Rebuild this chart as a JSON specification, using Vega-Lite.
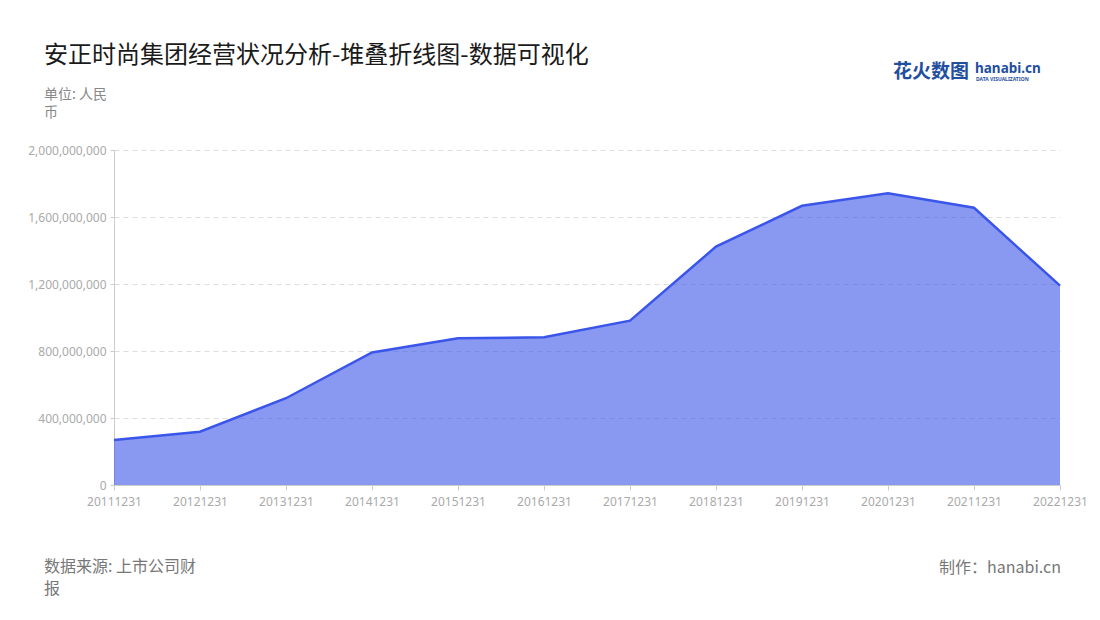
{
  "$schema": "https://vega.github.io/schema/vega-lite/v6.json",
  "autosize": {"type": "none"},
  "width": 946,
  "height": 335,
  "padding": {"left": 114, "top": 150, "right": 40, "bottom": 135},
  "background": "#ffffff",
  "config": {"view": {"stroke": null}, "font": "Noto Sans CJK SC"},
  "title": {
    "text": "安正时尚集团经营状况分析-堆叠折线图-数据可视化",
    "anchor": "start",
    "frame": "group",
    "dx": -70,
    "fontSize": 24,
    "fontWeight": "normal",
    "color": "#1a1a1a",
    "font": "Noto Sans CJK SC",
    "offset": -6
  },
  "data": {
    "values": [
      {"date": "20111231", "value": 269000000},
      {"date": "20121231", "value": 318000000},
      {"date": "20131231", "value": 518000000},
      {"date": "20141231", "value": 791000000},
      {"date": "20151231", "value": 876000000},
      {"date": "20161231", "value": 882000000},
      {"date": "20171231", "value": 981000000},
      {"date": "20181231", "value": 1423000000},
      {"date": "20191231", "value": 1667000000},
      {"date": "20201231", "value": 1741000000},
      {"date": "20211231", "value": 1655000000},
      {"date": "20221231", "value": 1190000000}
    ]
  },
  "layer": [
    {
      "mark": {
        "type": "area",
        "color": "#3a55e9",
        "opacity": 0.6,
        "line": {"color": "#3a55e9", "strokeWidth": 2.5, "opacity": 1}
      },
      "encoding": {
        "x": {
          "field": "date",
          "type": "ordinal",
          "sort": null,
          "scale": {"type": "point", "padding": 0},
          "axis": {
            "title": null,
            "labelAngle": 0,
            "labelFont": "Noto Sans",
            "labelFontSize": 12,
            "labelColor": "#aaaaaa",
            "labelPadding": 6,
            "tickColor": "#cccccc",
            "tickSize": 5,
            "domainColor": "#cccccc",
            "grid": false
          }
        },
        "y": {
          "field": "value",
          "type": "quantitative",
          "scale": {"domain": [0, 2000000000]},
          "axis": {
            "title": null,
            "values": [0, 400000000, 800000000, 1200000000, 1600000000, 2000000000],
            "format": ",.0f",
            "labelFont": "Noto Sans",
            "labelFontSize": 12,
            "labelColor": "#aaaaaa",
            "labelPadding": 4,
            "tickColor": "#cccccc",
            "tickSize": 4,
            "domainColor": "#cccccc",
            "grid": true,
            "gridColor": "#dddddd",
            "gridDash": [5, 4],
            "gridWidth": 1
          }
        }
      }
    },
    {
      "data": {"values": [{"t": ["单位: 人民", "币"]}]},
      "mark": {"type": "text", "x": -70, "y": -62, "align": "left", "baseline": "top", "fontSize": 14, "lineHeight": 18, "color": "#888888", "font": "Noto Sans CJK SC"},
      "encoding": {"text": {"field": "t"}}
    },
    {
      "data": {"values": [{"t": ["数据来源: 上市公司财", "报"]}]},
      "mark": {"type": "text", "x": -70, "y": 409, "align": "left", "baseline": "top", "fontSize": 16, "lineHeight": 22, "color": "#777777", "font": "Noto Sans CJK SC"},
      "encoding": {"text": {"field": "t"}}
    },
    {
      "data": {"values": [{"t": "制作：hanabi.cn"}]},
      "mark": {"type": "text", "x": 947, "y": 410, "align": "right", "baseline": "top", "fontSize": 16, "color": "#777777", "font": "Noto Sans CJK SC"},
      "encoding": {"text": {"field": "t"}}
    },
    {
      "data": {"values": [{"t": "花火数图"}]},
      "mark": {"type": "text", "x": 779, "y": -78, "align": "left", "baseline": "middle", "fontSize": 19, "fontWeight": "bold", "color": "#1f4f9e", "font": "Noto Sans CJK SC"},
      "encoding": {"text": {"field": "t"}}
    },
    {
      "data": {"values": [{"t": "hanabi.cn"}]},
      "mark": {"type": "text", "x": 861, "y": -81, "align": "left", "baseline": "middle", "fontSize": 13.5, "fontWeight": "bold", "color": "#1f4f9e", "font": "Noto Sans"},
      "encoding": {"text": {"field": "t"}}
    },
    {
      "data": {"values": [{"t": "DATA VISUALIZATION"}]},
      "mark": {"type": "text", "x": 862, "y": -71, "align": "left", "baseline": "middle", "fontSize": 5, "fontWeight": "bold", "color": "#1f4f9e", "font": "Noto Sans"},
      "encoding": {"text": {"field": "t"}}
    }
  ]
}
